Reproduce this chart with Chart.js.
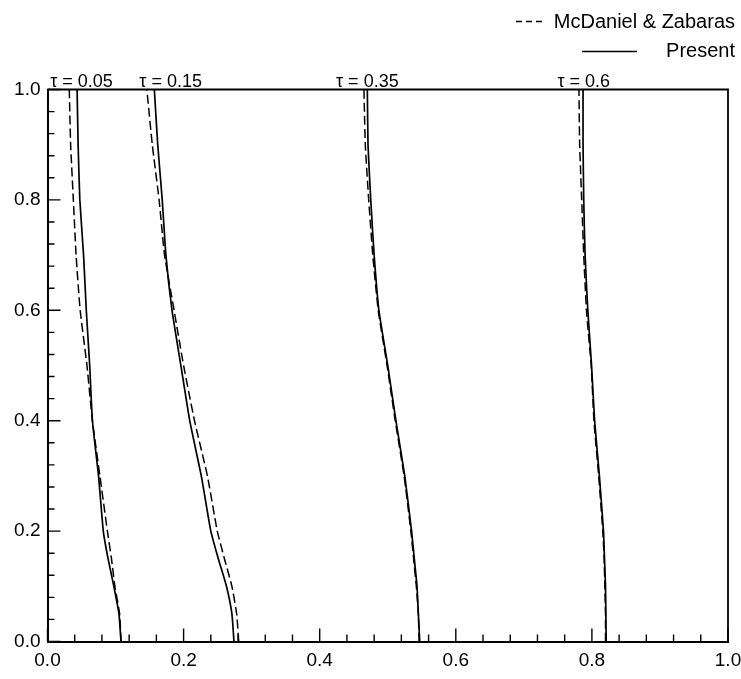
<!DOCTYPE html>
<html>
<head>
<meta charset="utf-8">
<script src="https://cdn.jsdelivr.net/npm/chart.js@4.4.1/dist/chart.umd.min.js"></script>
<style>
  html, body { margin: 0; padding: 0; background: #fff; }
  #wrap { width: 741px; height: 679px; }
</style>
</head>
<body>
<div id="wrap"><canvas id="c" width="741" height="679"></canvas></div>
<script>
// y positions shared by every profile
const yLevels = [0, 0.05, 0.1, 0.15, 0.2, 0.3, 0.4, 0.5, 0.6, 0.7, 0.8, 0.9, 1.0];

// Present (solid)
const present005 = [0.108, 0.105, 0.0975, 0.089, 0.082, 0.075, 0.066, 0.062, 0.057, 0.053, 0.0475, 0.045, 0.0435];
const present015 = [0.274, 0.271, 0.263, 0.251, 0.240, 0.226, 0.209, 0.196, 0.183, 0.174, 0.1686, 0.162, 0.157];
const present035 = [0.547, 0.545, 0.543, 0.539, 0.535, 0.525, 0.512, 0.500, 0.487, 0.480, 0.475, 0.471, 0.470];
const present060 = [0.821, 0.8205, 0.820, 0.8185, 0.817, 0.811, 0.804, 0.7995, 0.794, 0.790, 0.788, 0.787, 0.787];

// McDaniel & Zabaras (dashed)
const mcd005 = [0.108, 0.106, 0.099, 0.094, 0.088, 0.077, 0.066, 0.058, 0.048, 0.042, 0.038, 0.034, 0.032];
const mcd015 = [0.281, 0.278, 0.271, 0.260, 0.2495, 0.235, 0.216, 0.200, 0.186, 0.172, 0.164, 0.154, 0.146];
const mcd035 = [0.546, 0.545, 0.542, 0.538, 0.534, 0.524, 0.511, 0.499, 0.486, 0.478, 0.472, 0.467, 0.465];
const mcd060 = [0.820, 0.820, 0.819, 0.818, 0.816, 0.810, 0.803, 0.799, 0.792, 0.788, 0.785, 0.782, 0.781];

const seriesNames = ["McDaniel & Zabaras", "Present"];
const tauLabels = ["\u03c4 = 0.05", "\u03c4 = 0.15", "\u03c4 = 0.35", "\u03c4 = 0.6"];
const tauLabelX = [0.05, 0.181, 0.47, 0.788];

const majorTicks = [0, 0.2, 0.4, 0.6, 0.8, 1.0];
const minorTicks = [0.04, 0.08, 0.12, 0.16, 0.24, 0.28, 0.32, 0.36, 0.44, 0.48, 0.52, 0.56,
                    0.64, 0.68, 0.72, 0.76, 0.84, 0.88, 0.92, 0.96];

const FONT = "'Liberation Sans', Arial, sans-serif";

function pts(xs) {
  return xs.map((x, i) => ({ x: x, y: yLevels[i] }));
}

function line(xs, dashed) {
  return {
    label: dashed ? seriesNames[0] : seriesNames[1],
    data: pts(xs),
    showLine: true,
    borderColor: '#000',
    borderWidth: dashed ? 1.5 : 1.7,
    borderDash: dashed ? [9, 4] : [],
    pointRadius: 0,
    tension: 0.15,
    fill: false,
  };
}

// white page, box, inward ticks, tau labels and legend
const decor = {
  id: 'decor',
  beforeDraw(chart) {
    const ctx = chart.ctx;
    ctx.save();
    ctx.fillStyle = '#fff';
    ctx.fillRect(0, 0, chart.width, chart.height);
    ctx.restore();
  },
  afterDraw(chart) {
    const ctx = chart.ctx;
    const a = chart.chartArea;
    const xs = chart.scales.x, ys = chart.scales.y;
    ctx.save();
    ctx.strokeStyle = '#000';

    // top and right edges of the box
    ctx.lineWidth = 1.8;
    ctx.beginPath();
    ctx.moveTo(a.left, a.top);
    ctx.lineTo(a.right, a.top);
    ctx.lineTo(a.right, a.bottom);
    ctx.stroke();

    // inward ticks
    ctx.lineWidth = 1.4;
    ctx.beginPath();
    majorTicks.forEach(v => {
      const px = xs.getPixelForValue(v);
      ctx.moveTo(px, a.bottom); ctx.lineTo(px, a.bottom - 13);
      const py = ys.getPixelForValue(v);
      ctx.moveTo(a.left, py); ctx.lineTo(a.left + 13, py);
    });
    minorTicks.forEach(v => {
      const px = xs.getPixelForValue(v);
      ctx.moveTo(px, a.bottom); ctx.lineTo(px, a.bottom - 7);
      const py = ys.getPixelForValue(v);
      ctx.moveTo(a.left, py); ctx.lineTo(a.left + 7, py);
    });
    ctx.stroke();

    // tau labels above the box
    ctx.fillStyle = '#000';
    ctx.font = '18px ' + FONT;
    ctx.textAlign = 'center';
    ctx.textBaseline = 'alphabetic';
    tauLabels.forEach((t, i) => {
      ctx.fillText(t, xs.getPixelForValue(tauLabelX[i]), a.top - 3);
    });

    // legend, top right
    ctx.font = '20px ' + FONT;
    ctx.textAlign = 'right';
    ctx.fillText(seriesNames[0], 735, 28);
    ctx.fillText(seriesNames[1], 735, 57);
    ctx.lineWidth = 1.5;
    ctx.setLineDash([6, 4]);
    ctx.beginPath();
    ctx.moveTo(516, 21.5); ctx.lineTo(546, 21.5);
    ctx.stroke();
    ctx.setLineDash([]);
    ctx.beginPath();
    ctx.moveTo(582, 51.5); ctx.lineTo(637, 51.5);
    ctx.stroke();
    ctx.restore();
  }
};

const tickFont = { family: FONT, size: 19 };

new Chart(document.getElementById('c'), {
  type: 'scatter',
  data: {
    datasets: [
      line(mcd005, true), line(present005, false),
      line(mcd015, true), line(present015, false),
      line(mcd035, true), line(present035, false),
      line(mcd060, true), line(present060, false),
    ],
  },
  options: {
    responsive: false,
    animation: false,
    events: [],
    layout: { padding: { top: 89.5, right: 13, left: 0, bottom: 0 } },
    plugins: {
      legend: { display: false },
      tooltip: { enabled: false },
    },
    scales: {
      x: {
        type: 'linear',
        min: 0,
        max: 1,
        afterBuildTicks: (s) => { s.ticks = majorTicks.map(v => ({ value: v })); },
        afterFit: (s) => { s.height = 37.5; s.paddingLeft = 0; s.paddingRight = 0; },
        ticks: {
          color: '#000',
          font: tickFont,
          padding: 8,
          maxRotation: 0,
          callback: (v) => Number(v).toFixed(1),
        },
        grid: { display: false, drawTicks: false },
        border: { display: true, color: '#000', width: 2 },
      },
      y: {
        type: 'linear',
        min: 0,
        max: 1,
        afterBuildTicks: (s) => { s.ticks = majorTicks.map(v => ({ value: v })); },
        afterFit: (s) => { s.width = 47.5; s.paddingTop = 0; s.paddingBottom = 0; },
        ticks: {
          color: '#000',
          font: tickFont,
          padding: 7,
          callback: (v) => Number(v).toFixed(1),
        },
        grid: { display: false, drawTicks: false },
        border: { display: true, color: '#000', width: 2 },
      },
    },
  },
  plugins: [decor],
});
</script>
</body>
</html>
